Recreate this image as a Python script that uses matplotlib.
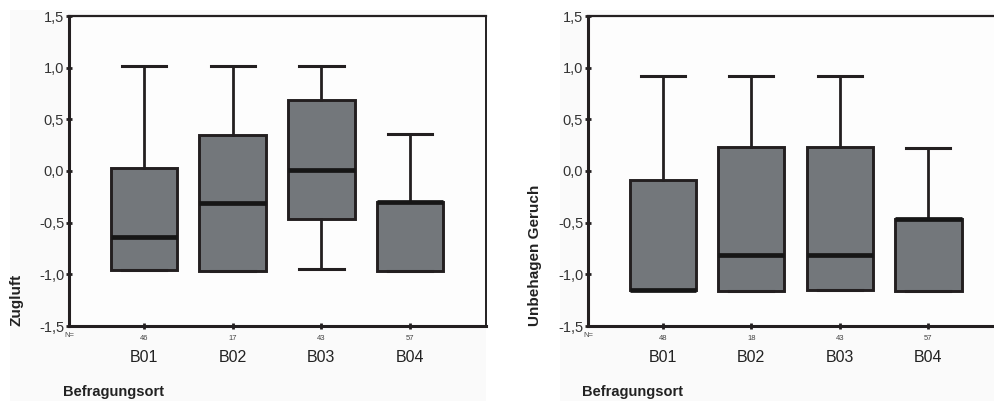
import matplotlib
matplotlib.use("Agg")
import matplotlib.pyplot as plt
from matplotlib.patches import Rectangle

plt.rcParams["font.family"] = ["Liberation Sans", "DejaVu Sans"]

# Categories and sample sizes
orte = ["B01", "B02", "B03", "B04"]
n_zugluft = [46, 17, 43, 57]
n_geruch = [48, 18, 43, 57]

# Box statistics: lower whisker, Q1, median, Q3, upper whisker
zug_whislo = [-0.96, -0.97, -0.945, -0.965]
zug_q1 = [-0.96, -0.97, -0.46, -0.965]
zug_med = [-0.64, -0.31, 0.01, -0.30]
zug_q3 = [0.03, 0.35, 0.69, -0.30]
zug_whishi = [1.02, 1.02, 1.02, 0.36]

ger_whislo = [-1.155, -1.16, -1.155, -1.16]
ger_q1 = [-1.155, -1.16, -1.155, -1.16]
ger_med = [-1.155, -0.81, -0.81, -0.46]
ger_q3 = [-0.09, 0.23, 0.23, -0.46]
ger_whishi = [0.92, 0.92, 0.92, 0.225]

yticks = [-1.5, -1.0, -0.5, 0.0, 0.5, 1.0, 1.5]

DARK = "#231f20"
FILL = "#73777b"

fig = plt.figure(figsize=(9.95, 4.01), dpi=100)
fig.patch.set_facecolor("white")

# faint grey panel behind each chart
for x0, w in [(10 / 995, 476 / 995), (560 / 995, 440 / 995)]:
    fig.patches.append(Rectangle((x0, 0), w, 1 - 10 / 401, transform=fig.transFigure,
                                 facecolor="#fafafa", edgecolor="none", zorder=-10))


def draw_panel(ax, whislo, q1, med, q3, whishi, counts, ylabel, label_x):
    stats = []
    for i in range(len(orte)):
        stats.append(dict(whislo=whislo[i], q1=q1[i], med=med[i], q3=q3[i],
                          whishi=whishi[i], fliers=[], label=orte[i]))
    ax.bxp(stats, positions=range(1, len(orte) + 1), widths=0.75,
           showfliers=False, patch_artist=True, manage_ticks=False,
           boxprops=dict(facecolor=FILL, edgecolor=DARK, linewidth=2.1),
           medianprops=dict(color="#161616", linewidth=3.4, solid_capstyle="butt"),
           whiskerprops=dict(color=DARK, linewidth=2.0),
           capprops=dict(color=DARK, linewidth=2.2), capwidths=0.5)
    ax.set_facecolor("#fdfdfd")
    ax.set_xlim(0.155, 4.855)
    ax.set_ylim(-1.5, 1.5)
    ax.set_yticks(yticks)
    ax.set_yticklabels([f"{v:.1f}".replace(".", ",") for v in yticks],
                       fontsize=10.5, color="#333333")
    ax.set_xticks(range(1, len(orte) + 1))
    ax.set_xticklabels([str(c) for c in counts], fontsize=5.5, color="#444444")
    ax.tick_params(axis="y", direction="inout", length=5, width=2, color=DARK, pad=1)
    ax.tick_params(axis="x", direction="inout", length=5, width=2, color=DARK, pad=4)
    ax.spines["left"].set_linewidth(2.2)
    ax.spines["bottom"].set_linewidth(2.2)
    ax.spines["top"].set_linewidth(1.6)
    ax.spines["right"].set_linewidth(1.4)
    for s in ax.spines.values():
        s.set_color(DARK)
    for i, name in enumerate(orte):
        ax.annotate(name, xy=(i + 1, 0), xycoords=("data", "axes fraction"),
                    xytext=(0, -22.5), textcoords="offset points",
                    ha="center", va="center", fontsize=11.5, color="#222222")
    ax.text(-0.012, -0.02, "N=", transform=ax.transAxes, fontsize=5.5, color="#444444",
            ha="left", va="top")
    ax.text(label_x, 0, ylabel, transform=ax.transAxes, rotation=90,
            ha="center", va="bottom", fontsize=11, fontweight="bold", color="#222222")
    ax.text(-0.015, -0.213, "Befragungsort", transform=ax.transAxes,
            ha="left", va="center", fontsize=10.5, fontweight="bold", color="#222222")


bottom = 1 - 326 / 401
height = (326 - 16) / 401

ax1 = fig.add_axes([69 / 995, bottom, 417 / 995, height])
draw_panel(ax1, zug_whislo, zug_q1, zug_med, zug_q3, zug_whishi, n_zugluft,
           "Zugluft", -0.125)

ax2 = fig.add_axes([588 / 995, bottom, 416 / 995, height])
draw_panel(ax2, ger_whislo, ger_q1, ger_med, ger_q3, ger_whishi, n_geruch,
           "Unbehagen Geruch", -0.127)

fig.savefig("out.png", dpi=100, facecolor="white")
